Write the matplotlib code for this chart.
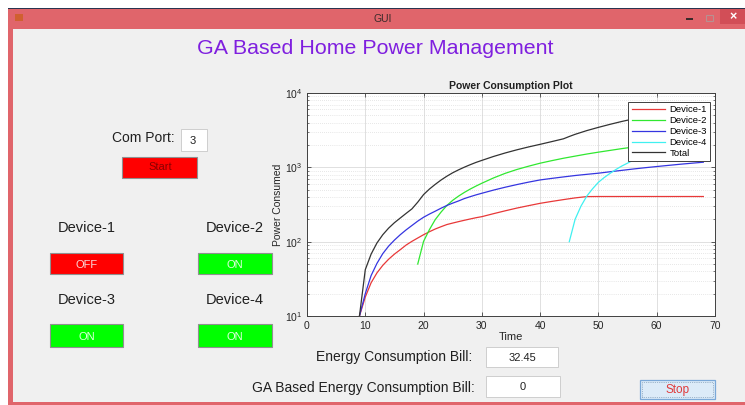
import numpy as np
import matplotlib
matplotlib.use('Agg')
import matplotlib.pyplot as plt
from matplotlib.patches import Rectangle

plt.rcParams['font.family'] = ['Liberation Sans', 'DejaVu Sans']

# data
t_dev1 = [9, 10, 11, 12, 13, 14, 15, 16, 17, 18, 19, 20, 21, 22, 23, 24, 25, 26, 27, 28, 29, 30,
          32, 34, 36, 38, 40, 42, 44, 46, 48, 50, 55, 60, 65, 68]
p_dev1 = [10, 18, 28, 38, 48, 58, 68, 78, 90, 101, 112, 124, 136, 148, 159, 170, 178, 186, 194, 202, 210, 217,
          238, 260, 283, 305, 328, 348, 368, 388, 404, 405, 405, 405, 405, 405]

t_dev2 = [19, 20, 21, 22, 23, 24, 25, 26, 27, 28, 29, 30, 32, 34, 36, 38, 40, 42, 44, 46, 48,
          50, 52, 54, 56, 58, 60, 62, 64, 66, 68]
p_dev2 = [50, 101, 145, 198, 250, 307, 360, 410, 460, 510, 560, 611, 720, 830, 935, 1035, 1137, 1230, 1325, 1415, 1510,
          1600, 1690, 1785, 1875, 1965, 2060, 2150, 2245, 2350, 2450]

t_dev3 = [9, 10, 11, 12, 13, 14, 15, 16, 17, 18, 19, 20, 21, 22, 23, 24, 25, 26, 27, 28, 29, 30,
          32, 34, 36, 38, 40, 42, 44, 46, 48, 50, 52, 54, 56, 58, 60, 62, 64, 66, 68]
p_dev3 = [10, 20, 35, 51, 69, 87, 105, 124, 144, 165, 189, 213, 235, 257, 282, 307, 330, 353, 380, 403, 426, 448,
          494, 540, 586, 632, 677, 710, 743, 776, 805, 834, 872, 910, 950, 988, 1025, 1062, 1100, 1136, 1172]

t_dev4 = [45, 46, 47, 48, 49, 50, 51, 52, 53, 54, 56, 58, 60, 62, 64, 66, 68]
p_dev4 = [100, 200, 300, 410, 515, 630, 730, 830, 935, 1040, 1250, 1460, 1680, 1890, 2100, 2310, 2520]

t_total = [9, 10, 11, 12, 13, 14, 15, 16, 17, 18, 19, 20, 21, 22, 23, 24, 25, 26, 27, 28, 29, 30,
           32, 34, 36, 38, 40, 42, 44, 45, 46, 48, 50, 52, 54, 56, 58, 60, 62, 64, 66, 68]
p_total = [10, 42, 68, 96, 124, 152, 180, 208, 240, 276, 340, 430, 510, 590, 675, 760, 845, 925, 1005, 1085, 1165, 1240,
           1400, 1560, 1720, 1880, 2040, 2220, 2420, 2600, 2780, 3120, 3450, 3790, 4140, 4480, 4820, 5170, 5500, 5850, 6200, 6550]

series_labels = ['Device-1', 'Device-2', 'Device-3', 'Device-4', 'Total']
series_colors = ['#E83838', '#30E830', '#3535E0', '#40F0F0', '#333333']

device_names = ['Device-1', 'Device-2', 'Device-3', 'Device-4']
device_states = ['OFF', 'ON', 'ON', 'ON']

com_port = '3'
bill = '32.45'
ga_bill = '0'

W, H = 745, 405
fig = plt.figure(figsize=(W / 100, H / 100), dpi=100)
fig.patch.set_facecolor('white')


def box(x0, y0, x1, y1, fc, ec='none', lw=0.0, ls='-', z=0):
    # pixel coords (top-left origin) -> figure rectangle
    r = Rectangle((x0 / W, 1 - y1 / H), (x1 - x0) / W, (y1 - y0) / H,
                  transform=fig.transFigure, facecolor=fc, edgecolor=ec,
                  linewidth=lw, linestyle=ls, zorder=z)
    fig.add_artist(r)


def txt(x, y, s, **kw):
    fig.text(x / W, 1 - y / H, s, va='center', **kw)


# window frame
box(8, 8, W, H, '#E0656B')
box(8, 8, W, 9, '#2A3450')
box(720, 9, W, 24, '#D24E57')
box(13, 29, W, 402, '#F0F0F0')
box(15, 14, 23, 21, '#D06030', z=1)
txt(383, 19, 'GUI', ha='center', fontsize=7.5, color='#3A2A2A')
box(686, 18, 693, 19.5, '#3A2A2A', z=1)
box(706, 15, 713, 21, 'none', ec='#B89090', lw=0.8, z=1)
txt(733, 17, '×', ha='center', fontsize=9, color='white', fontweight='bold')

txt(375, 48, 'GA Based Home Power Management', ha='center', fontsize=15.4, color='#7F1FDF')

# left controls
txt(175, 138, 'Com Port:', ha='right', fontsize=10, color='#202020')
box(181, 129, 207, 151, 'white', ec='#C8C8C8', lw=0.6)
txt(193, 141, com_port, ha='center', fontsize=8, color='#202020')
box(122, 157, 197, 178, '#FF0000', ec='#909090', lw=0.8)
txt(160, 167, 'Start', ha='center', fontsize=8, color='#8A0000')

btn_x = [(50, 123), (198, 272), (50, 123), (198, 272)]
btn_y = [(253, 274), (253, 274), (324, 347), (324, 347)]
lab_y = [228, 228, 300, 300]
for name, state, (bx0, bx1), (by0, by1), ly in zip(device_names, device_states, btn_x, btn_y, lab_y):
    txt((bx0 + bx1) / 2, ly, name, ha='center', fontsize=10.5, color='#202020')
    fc = '#FF0000' if state == 'OFF' else '#00FF00'
    tc = '#F8D8D8' if state == 'OFF' else '#E0FFE0'
    box(bx0, by0, bx1, by1, fc, ec='#909090', lw=0.8)
    txt((bx0 + bx1) / 2, (by0 + by1) / 2 + 1, state, ha='center', fontsize=8, color=tc)

# bottom fields
txt(472, 357, 'Energy Consumption Bill:', ha='right', fontsize=10, color='#202020')
box(486, 347, 558, 367, 'white', ec='#C8C8C8', lw=0.6)
txt(522, 358, bill, ha='center', fontsize=8, color='#202020')
txt(475, 388, 'GA Based Energy Consumption Bill:', ha='right', fontsize=10, color='#202020')
box(486, 376, 560, 397, 'white', ec='#C8C8C8', lw=0.6)
txt(523, 387, ga_bill, ha='center', fontsize=8, color='#202020')
box(640, 380, 715, 399, '#DCEBF8', ec='#7AA8D8', lw=0.9)
box(642, 382, 713, 397, 'none', ec='#6080A0', lw=0.5, ls=':', z=1)
txt(678, 390, 'Stop', ha='center', fontsize=8.5, color='#E03A3A')

# plot
ax = fig.add_axes([307 / W, 1 - 316 / H, (715 - 307) / W, (316 - 93) / H])
ax.set_facecolor('white')
for (tt, pp), lab, col in zip([(t_dev1, p_dev1), (t_dev2, p_dev2), (t_dev3, p_dev3),
                               (t_dev4, p_dev4), (t_total, p_total)],
                              series_labels, series_colors):
    ax.plot(tt, pp, color=col, lw=0.9, label=lab)

ax.set_yscale('log')
ax.set_xlim(0, 70)
ax.set_ylim(10, 1e4)
ax.set_xticks(np.arange(0, 71, 10))
ax.grid(True, which='major', color='#DADADA', lw=0.6, ls='-')
ax.grid(True, which='minor', axis='y', color='#D0D0D0', lw=0.5, ls=(0, (1, 2)))
ax.tick_params(which='both', direction='in', top=True, right=True, colors='#404040',
               labelsize=7.5, labelcolor='#262626')
ax.tick_params(which='major', length=3, width=0.6)
ax.tick_params(which='minor', length=1.5, width=0.5)
for s in ax.spines.values():
    s.set_color('#404040')
    s.set_linewidth(0.7)

ax.set_title('Power Consumption Plot', fontsize=7.5, fontweight='bold', pad=3, color='#202020')
ax.set_xlabel('Time', fontsize=8, labelpad=1, color='#262626')
ax.set_ylabel('Power Consumed', fontsize=7.5, labelpad=1, color='#262626')

leg = ax.legend(loc='upper right', bbox_to_anchor=(0.988, 0.96), fontsize=6.8,
                fancybox=False, framealpha=1, edgecolor='#404040', handlelength=3.5,
                labelspacing=0.2, borderpad=0.35, handletextpad=0.5, borderaxespad=0)
leg.get_frame().set_linewidth(0.7)

fig.savefig('out.png', dpi=100)
